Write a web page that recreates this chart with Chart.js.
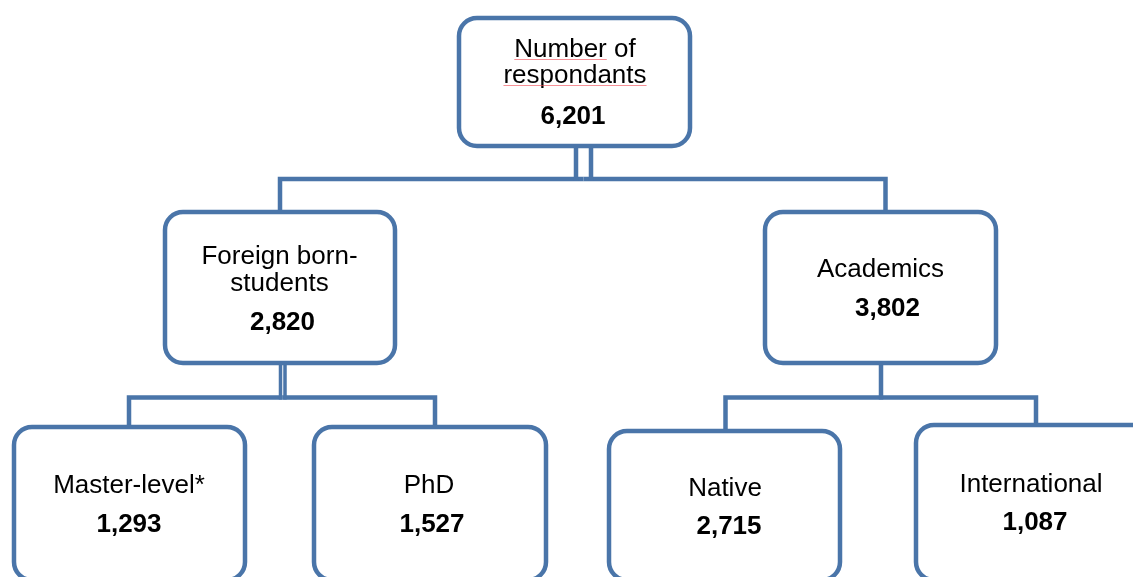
<!DOCTYPE html>
<html lang="en">
<head>
    <meta charset="UTF-8">
    <title>Number of respondants</title>
    <style>
        html, body { margin: 0; padding: 0; background: #ffffff; }
        #tree { display: block; }
    </style>
</head>
<body>
    <canvas id="tree" width="1133" height="577"></canvas>

    <script src="https://cdn.jsdelivr.net/npm/chart.js"></script>
    <script>
        // tree data
        const nodeNames = [
            ['Number of', 'respondants'],
            ['Foreign born-', 'students'],
            ['Academics'],
            ['Master-level*'],
            ['PhD'],
            ['Native'],
            ['International']
        ];
        const nodeCounts = [6201, 2820, 3802, 1293, 1527, 2715, 1087];
        const nodeParent = [null, 0, 0, 1, 1, 2, 2];
        const flaggedWords = ['Number', 'respondants']; // red spell-check underline

        // layout, in the chart's own units (x 0..1133, y 0..577 top-down)
        const boxes = [
            { x0: 459, y0: 18, x1: 690, y1: 146, tx: 575, lines: [57, 83], vx: 573, vy: 124 },
            { x0: 165, y0: 212, x1: 395, y1: 363, tx: 279.5, lines: [264, 291], vx: 282.5, vy: 330 },
            { x0: 765, y0: 212, x1: 996, y1: 363, tx: 880.5, lines: [277], vx: 887.5, vy: 316 },
            { x0: 14, y0: 427, x1: 245, y1: 580, tx: 129, lines: [493], vx: 129, vy: 532 },
            { x0: 314, y0: 427, x1: 546, y1: 580, tx: 429, lines: [493], vx: 432, vy: 532 },
            { x0: 609, y0: 431, x1: 840, y1: 580, tx: 725, lines: [496], vx: 729, vy: 534 },
            { x0: 916, y0: 425, x1: 1160, y1: 580, tx: 1031, lines: [492], vx: 1035, vy: 530 }
        ];
        // where a child hangs from its bus
        const dropX = [null, 280, 885.5, 129, 435, 725.5, 1036];
        // stems under a parent: x of each stroke, bus height
        const stems = {
            0: { xs: [576, 591], width: 4.5, bus: 179 },
            1: { xs: [280.5, 285], width: 3.5, bus: 397.5 },
            2: { xs: [881], width: 4.5, bus: 397.5 }
        };

        const BLUE = '#4A75A9';
        const FONT = '"Liberation Sans", Arial, sans-serif';

        // connectors as line datasets
        const datasets = [];
        Object.keys(stems).forEach(p => {
            const s = stems[p];
            const b = boxes[p];
            s.xs.forEach(x => {
                datasets.push({
                    data: [{ x: x, y: b.y1 }, { x: x, y: s.bus + 2 }],
                    borderWidth: s.width
                });
            });
        });
        nodeParent.forEach((p, i) => {
            if (p === null) return;
            const s = stems[p];
            const mid = s.xs.reduce((a, v) => a + v, 0) / s.xs.length;
            datasets.push({
                data: [{ x: mid, y: s.bus }, { x: dropX[i], y: s.bus }, { x: dropX[i], y: boxes[i].y0 }],
                borderWidth: 4.5
            });
        });
        datasets.forEach(d => {
            d.showLine = true;
            d.pointRadius = 0;
            d.borderColor = BLUE;
            d.borderJoinStyle = 'miter';
            d.fill = false;
        });

        const boxPlugin = {
            id: 'boxes',
            afterDatasetsDraw(chart) {
                const ctx = chart.ctx;
                const xs = chart.scales.x;
                const ys = chart.scales.y;
                ctx.save();
                boxes.forEach((b, i) => {
                    const x0 = xs.getPixelForValue(b.x0), x1 = xs.getPixelForValue(b.x1);
                    const y0 = ys.getPixelForValue(b.y0), y1 = ys.getPixelForValue(b.y1);
                    ctx.beginPath();
                    ctx.roundRect(x0, y0, x1 - x0, y1 - y0, 18);
                    ctx.fillStyle = '#ffffff';
                    ctx.fill();
                    ctx.lineWidth = 4.5;
                    ctx.strokeStyle = BLUE;
                    ctx.stroke();

                    ctx.fillStyle = '#000000';
                    ctx.textAlign = 'center';
                    ctx.textBaseline = 'alphabetic';
                    ctx.font = '26px ' + FONT;
                    const cx = xs.getPixelForValue(b.tx);
                    nodeNames[i].forEach((line, k) => {
                        const by = ys.getPixelForValue(b.lines[k]);
                        ctx.fillText(line, cx, by);
                        // spell-check squiggle under flagged words
                        flaggedWords.forEach(w => {
                            const at = line.indexOf(w);
                            if (at < 0) return;
                            const full = ctx.measureText(line).width;
                            const start = cx - full / 2 + ctx.measureText(line.slice(0, at)).width;
                            const len = ctx.measureText(w).width;
                            ctx.beginPath();
                            ctx.strokeStyle = 'rgba(240, 70, 80, 0.6)';
                            ctx.lineWidth = 1;
                            ctx.moveTo(start, by + 2.5);
                            ctx.lineTo(start + len, by + 2.5);
                            ctx.stroke();
                        });
                    });
                    ctx.font = 'bold 26px ' + FONT;
                    ctx.fillText(nodeCounts[i].toLocaleString('en-US'),
                        xs.getPixelForValue(b.vx), ys.getPixelForValue(b.vy));
                });
                ctx.restore();
            }
        };

        new Chart(document.getElementById('tree').getContext('2d'), {
            type: 'scatter',
            data: { datasets: datasets },
            options: {
                responsive: false,
                animation: false,
                layout: { padding: 0 },
                scales: {
                    x: { type: 'linear', min: 0, max: 1133, display: false },
                    y: { type: 'linear', min: 0, max: 577, reverse: true, display: false }
                },
                plugins: {
                    legend: { display: false },
                    tooltip: { enabled: false }
                }
            },
            plugins: [boxPlugin]
        });
    </script>
</body>
</html>
